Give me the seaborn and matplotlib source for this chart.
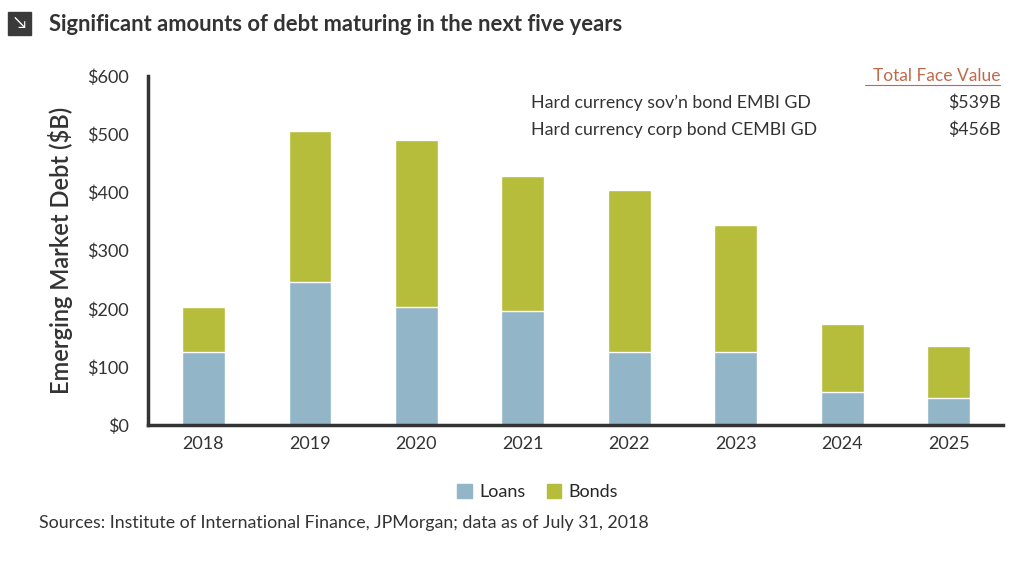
import matplotlib
matplotlib.use("Agg")
import matplotlib.pyplot as plt
import pandas as pd
import seaborn as sns
from matplotlib.patches import Patch, Rectangle

years = ["2018", "2019", "2020", "2021", "2022", "2023", "2024", "2025"]
loans = [126, 247, 204, 197, 126, 126, 57, 47]
bonds = [77, 258, 286, 231, 278, 218, 117, 90]
yticks = [0, 100, 200, 300, 400, 500, 600]

LOAN_C = "#93b5c8"
BOND_C = "#b5bd3a"
DARK = "#333333"

df = pd.DataFrame({"year": years, "loans": loans,
                   "total": [l + b for l, b in zip(loans, bonds)]})

sns.set_style("white")
plt.rcParams["font.family"] = ["Lato", "DejaVu Sans"]

fig = plt.figure(figsize=(10.24, 5.77), dpi=100)
ax = fig.add_axes([0.1445, 0.263, 0.835, 0.605])

sns.barplot(data=df, x="year", y="total", color=BOND_C, saturation=1, width=0.4, ax=ax)
sns.barplot(data=df, x="year", y="loans", color=LOAN_C, saturation=1, width=0.4, ax=ax)

ax.set_ylim(0, 600)
ax.set_xlim(-0.52, 7.51)
ax.set_yticks(yticks)
ax.set_yticklabels([f"${v}" for v in yticks], fontsize=13, color=DARK)
ax.tick_params(axis="x", labelsize=13, colors=DARK, length=0, pad=8)
ax.tick_params(axis="y", length=0, pad=14)
ax.set_xlabel("")
ax.set_ylabel("Emerging Market Debt ($B)", fontsize=17, color=DARK, labelpad=10,
              fontweight="semibold")
for s in ["top", "right"]:
    ax.spines[s].set_visible(False)
for s in ["left", "bottom"]:
    ax.spines[s].set_color(DARK)
    ax.spines[s].set_linewidth(2.5)

# title with icon
fig.patches.append(Rectangle((0.008, 0.94), 0.022, 0.04, transform=fig.transFigure,
                             color="#3a3a3a", figure=fig))
fig.text(0.019, 0.96, "\u2198", color="white", fontsize=12, ha="center", va="center")
fig.text(0.048, 0.958, "Significant amounts of debt maturing in the next five years",
         fontsize=15.8, fontweight="bold", color=DARK, va="center")

# annotation table
fig.text(0.977, 0.868, "Total Face Value", fontsize=12.5, color="#c0694a",
         ha="right", va="center")
fig.add_artist(plt.Line2D([0.845, 0.977], [0.853, 0.853], color="#c0694a", lw=0.8))
fig.text(0.519, 0.822, "Hard currency sov\u2019n bond EMBI GD", fontsize=12.8,
         color=DARK, va="center")
fig.text(0.977, 0.822, "$539B", fontsize=12.8, color=DARK, ha="right", va="center")
fig.text(0.519, 0.775, "Hard currency corp bond CEMBI GD", fontsize=12.8,
         color=DARK, va="center")
fig.text(0.977, 0.775, "$456B", fontsize=12.8, color=DARK, ha="right", va="center")

handles = [Patch(color=LOAN_C, label="Loans"), Patch(color=BOND_C, label="Bonds")]
fig.legend(handles=handles, loc="center", bbox_to_anchor=(0.525, 0.147), ncol=2,
           frameon=False, fontsize=13, handlelength=0.8, handleheight=0.8,
           columnspacing=1.2, handletextpad=0.4)

fig.text(0.038, 0.093, "Sources: Institute of International Finance, JPMorgan; data as of July 31, 2018",
         fontsize=12.8, color=DARK, va="center")

fig.savefig("out.png", dpi=100)
